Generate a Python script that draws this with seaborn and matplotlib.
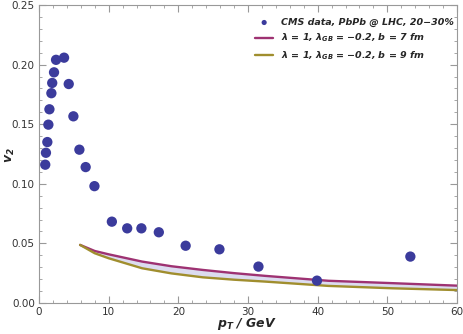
import numpy as np
import seaborn as sns
import matplotlib.pyplot as plt

# CMS data points
pt_data = [0.9, 1.0, 1.2, 1.35, 1.5, 1.78, 1.9, 2.16, 2.45, 3.6, 4.27, 4.94, 5.8, 6.7,
           7.96, 10.46, 12.66, 14.7, 17.2, 21.05, 25.9, 31.5, 39.9, 53.3]
v2_data = [0.116, 0.126, 0.135, 0.1496, 0.1625, 0.176, 0.1846, 0.1935, 0.204, 0.2058,
           0.1837, 0.1566, 0.1286, 0.114, 0.098, 0.0682, 0.0626, 0.0626, 0.0593,
           0.048, 0.045, 0.0305, 0.0187, 0.0389]

# model curves
pt_curve = [5.9, 8.0, 10.0, 14.8, 19.0, 23.5, 28.0, 32.5, 41.5, 50.7, 60.0]
v2_b7 = [0.0487, 0.0436, 0.0408, 0.0347, 0.0308, 0.0277, 0.0250, 0.0227, 0.0186,
         0.0166, 0.0145]
v2_b9 = [0.0487, 0.0417, 0.0375, 0.0291, 0.0248, 0.0215, 0.0195, 0.0179, 0.0143,
         0.0123, 0.0108]

label_data = "CMS data, PbPb @ LHC, 20\u221230%"
label_b7 = "$\\lambda$ = 1, $\\lambda_{GB}$ = \u22120.2, b = 7 fm"
label_b9 = "$\\lambda$ = 1, $\\lambda_{GB}$ = \u22120.2, b = 9 fm"

sns.set_style("ticks")
plt.rcParams['font.family'] = ['DejaVu Sans']
plt.rcParams['mathtext.fontset'] = 'custom'
plt.rcParams['mathtext.rm'] = 'DejaVu Sans:bold:italic'
plt.rcParams['mathtext.it'] = 'DejaVu Sans:bold:italic'
plt.rcParams['mathtext.bf'] = 'DejaVu Sans:bold:italic'

fig = plt.figure(figsize=(4.64, 3.34), dpi=100)
ax = fig.add_axes([0.084, 0.093, 0.901, 0.892])

ax.fill_between(pt_curve, v2_b9, v2_b7, color="#dcdcf0", lw=0)
sns.lineplot(x=pt_curve, y=v2_b7, ax=ax, color="#9e3272", lw=1.7, label=label_b7)
sns.lineplot(x=pt_curve, y=v2_b9, ax=ax, color="#a08e2e", lw=1.7, label=label_b9)
sns.scatterplot(x=pt_data, y=v2_data, ax=ax, color="#3b3b9c", s=55, edgecolor="none",
                label=label_data, zorder=5)

ax.set_xlim(0, 60)
ax.set_ylim(0, 0.25)
ax.set_xticks(range(0, 61, 10))
ax.set_xticks(range(0, 61, 2), minor=True)
ax.set_yticks(np.arange(0, 0.251, 0.05))
ax.set_yticks(np.arange(0, 0.251, 0.01), minor=True)
ax.set_yticklabels([f"{v:.2f}" for v in np.arange(0, 0.251, 0.05)])

ax.tick_params(which="both", direction="in", top=True, right=True, colors="#999999",
               labelcolor="#333333", labelsize=7.5, pad=3)
ax.tick_params(which="major", length=5)
ax.tick_params(which="minor", length=2.5)
for sp in ax.spines.values():
    sp.set_color("#999999")
    sp.set_linewidth(0.8)

ax.set_xlabel("$p_T$ / GeV", fontsize=9, fontweight="bold", style="italic", va="center")
ax.set_ylabel("$v_2$", fontsize=9, fontweight="bold", style="italic", va="center")
ax.xaxis.set_label_coords(0.498, -0.072)
ax.yaxis.set_label_coords(-0.068, 0.497)

handles, labels = ax.get_legend_handles_labels()
order = [2, 0, 1]
leg = ax.legend([handles[i] for i in order], [labels[i] for i in order],
                loc="upper right", bbox_to_anchor=(1.012, 0.985), frameon=False,
                fontsize=6.8, handlelength=1.9, markerscale=0.5, labelspacing=0.5)
for t in leg.get_texts():
    t.set_fontweight("bold")
    t.set_fontstyle("italic")

fig.savefig("out.png", dpi=100)
